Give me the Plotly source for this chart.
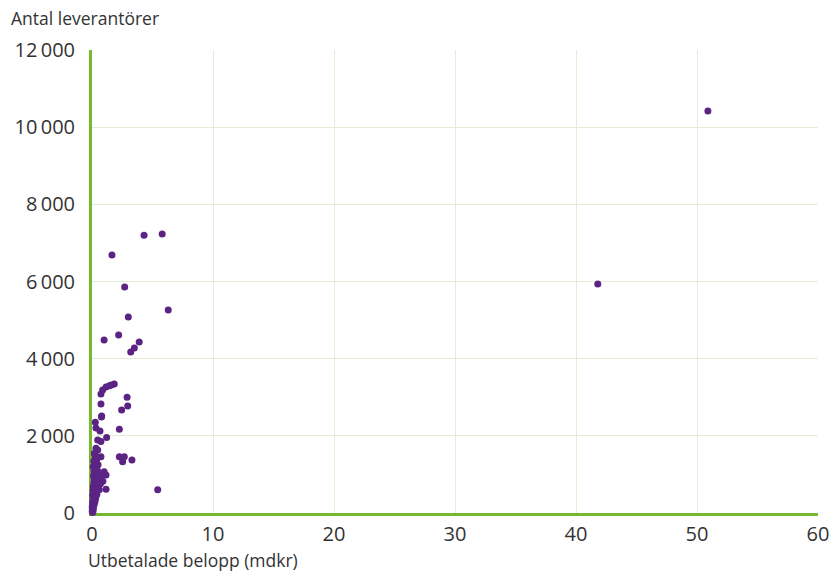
import plotly.graph_objects as go

# Utbetalade belopp (mdkr)
belopp = [
    50.9, 41.8, 4.3, 5.8, 1.65, 2.7, 6.3, 3.0, 2.2, 1.0, 3.9, 3.5, 3.2,
    1.84, 1.6, 1.43, 1.16, 0.88, 0.74, 0.74, 0.8, 2.9, 2.95, 2.45,
    0.78, 0.27, 2.26, 0.33, 0.66, 1.21, 0.47, 0.74, 0.33, 0.47, 2.26, 2.67,
    2.53, 3.3, 0.74, 0.33, 1.0, 1.16, 1.16, 5.43,
    0.2, 0.25, 0.3, 0.4, 0.15, 0.35, 0.5, 0.22, 0.1, 0.3, 0.45, 0.18,
    0.28, 0.38, 0.12, 0.25, 0.42, 0.2, 0.32, 0.55, 0.15, 0.3, 0.22, 0.48,
    0.1, 0.26, 0.36, 0.6, 0.08, 0.2, 0.3, 0.16, 0.4, 0.05, 0.12, 0.22,
    0.3, 0.08, 0.15, 0.25, 0.05, 0.1, 0.18, 0.04, 0.12, 0.02, 0.06, 0.1,
    0.03, 0.08, 0.02, 0.05, 0.9, 0.7, 0.85, 0.6,
]
# Antal leverantörer
antal = [
    10420, 5935, 7200, 7230, 6690, 5860, 5260, 5080, 4615, 4485, 4430, 4275, 4170,
    3345, 3320, 3300, 3265, 3190, 3085, 2825, 2515, 3000, 2775, 2670,
    2490, 2350, 2170, 2200, 2125, 1960, 1890, 1850, 1680, 1635, 1460, 1460,
    1330, 1375, 1460, 1420, 1070, 985, 615, 600,
    1550, 1500, 1480, 1400, 1350, 1300, 1250, 1220, 1200, 1150, 1100, 1080,
    1030, 1000, 960, 920, 900, 860, 830, 800, 780, 750, 720, 700,
    680, 650, 620, 600, 580, 560, 540, 500, 480, 460, 430, 400,
    380, 350, 330, 300, 280, 250, 220, 200, 170, 150, 120, 100,
    70, 50, 30, 10, 820, 760, 1000, 900,
]

x_ticks = [0, 10, 20, 30, 40, 50, 60]
y_ticks = [0, 2000, 4000, 6000, 8000, 10000, 12000]
y_tick_labels = ["0", "2\u2009000", "4\u2009000", "6\u2009000", "8\u2009000", "10\u2009000", "12\u2009000"]

purple = "#5b2484"
green = "#78b82e"
grid = "#e4eed6"
text = "#333333"
font = "Open Sans"

fig = go.Figure(
    go.Scatter(
        x=belopp, y=antal, mode="markers",
        marker=dict(color=purple, size=7, line=dict(width=0)),
        cliponaxis=False, hoverinfo="x+y",
    )
)

fig.update_layout(
    width=832, height=571,
    margin=dict(l=92, r=14, t=50, b=58),
    paper_bgcolor="white", plot_bgcolor="white",
    showlegend=False,
    font=dict(family=font, color=text, size=20),
    xaxis=dict(
        range=[0, 60], tickvals=x_ticks, ticktext=[str(v) for v in x_ticks],
        showgrid=True, gridcolor=grid, gridwidth=1,
        showline=True, linecolor=green, linewidth=3,
        zeroline=False, ticks="", ticklabelstandoff=1,
        automargin=False,
        layer="below traces", tickfont=dict(size=20, color=text),
    ),
    yaxis=dict(
        range=[0, 12000], tickvals=y_ticks, ticktext=y_tick_labels,
        showgrid=True, gridcolor=grid, gridwidth=1,
        showline=True, linecolor=green, linewidth=3,
        zeroline=False, ticks="", ticklabelstandoff=10,
        automargin=False,
        layer="below traces", tickfont=dict(size=20, color=text),
    ),
    annotations=[
        dict(text="Antal leverantörer", xref="paper", yref="paper",
             x=-83/726, y=1 + 32/463, xanchor="left", yanchor="middle",
             showarrow=False, font=dict(size=17.5, color=text, family=font)),
        dict(text="Utbetalade belopp (mdkr)", xref="paper", yref="paper",
             x=-6/726, y=-47/463, xanchor="left", yanchor="middle",
             showarrow=False, font=dict(size=17.5, color=text, family=font)),
    ],
)

# remove the page's default body margin so the figure fills the window exactly
fig.write_html(
    "out.html",
    config={"displayModeBar": False},
    post_script="document.body.style.margin='0';"
                "document.documentElement.style.overflow='hidden';",
)
